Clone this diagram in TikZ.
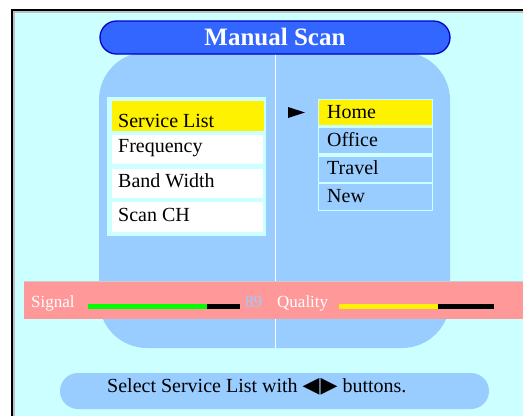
\documentclass[tikz,border=0pt]{standalone}
\usepackage{fontspec}
\setmainfont{Liberation Serif}
\newfontfamily\symfont{DejaVu Sans}
\definecolor{bgcyan}{HTML}{CCFFFF}
\definecolor{panelblue}{HTML}{99CCFF}
\definecolor{titleblue}{HTML}{3366FF}
\definecolor{titleedge}{HTML}{0000CC}
\definecolor{pinkbar}{HTML}{FF9999}
\tikzset{
  box/.style={inner sep=0, outer sep=0, anchor=north west},
  itemtext/.style={inner sep=0, anchor=base west, font=\fontsize{20}{24}\selectfont},
  sigtext/.style={inner sep=0, anchor=base west, font=\fontsize{17}{20}\selectfont, text=white},
}
\begin{document}
\begin{tikzpicture}[x=1pt,y=-1pt]
\useasboundingbox (0,0) rectangle (523,416);
\fill[white] (0,0) rectangle (523,416);
% frame
\fill[bgcyan] (12,10) rectangle (523,416);
\draw[gray!50, line width=1.2] (14,416) -- (14,12) -- (523,12);
\draw[black, line width=1.6] (12,416) -- (12,10) -- (523,10);
% big panel
\node[box, fill=panelblue, rounded corners=48, minimum width=351, minimum height=296] (panel) at (99,52) {};
% title
\node[draw=titleedge, line width=1.3, fill=titleblue, rounded corners=16.5, minimum width=350, minimum height=33, inner sep=0, text=white, font=\bfseries\fontsize{25}{28}\selectfont] (title) at (275,37.5) {\raisebox{1pt}{Manual Scan}};
% divider
\draw[white, line width=1] (title.south) -- (panel.south -| title.south);
% left list
\node[box, fill=bgcyan, minimum width=159, minimum height=139] (llist) at (107,97) {};
\node[box, fill=yellow, minimum width=152, minimum height=30] (l1) at (112,101) {};
\node[box, fill=white, minimum width=151, minimum height=29] (l2) at (112,135) {};
\node[box, fill=white, minimum width=151, minimum height=29] (l3) at (112,169) {};
\node[box, fill=white, minimum width=151, minimum height=30] (l4) at (112,202) {};
\node[itemtext] (t1) at (118,127) {Service List};
\node[itemtext] (t2) at (118,152) {Frequency};
\node[itemtext] (t3) at (118,187) {Band Width};
\node[itemtext] (t4) at (118,221) {Scan CH};
% arrow
\fill[black] (288,107) -- (305,112.5) -- (288,118) -- cycle;
% right list
\node[box, fill=bgcyan, minimum width=115, minimum height=112] (rlist) at (318,99) {};
\node[box, fill=yellow, minimum width=113, minimum height=25] (r1) at (319,100) {};
\node[box, fill=panelblue, minimum width=113, minimum height=25] (r2) at (319,128) {};
\node[box, fill=panelblue, minimum width=113, minimum height=25] (r3) at (319,157) {};
\node[box, fill=panelblue, minimum width=113, minimum height=26] (r4) at (319,184) {};
\node[itemtext] (h1) at (327,118) {Home};
\node[itemtext] (h2) at (327,146) {Office};
\node[itemtext] (h3) at (327,174) {Travel};
\node[itemtext] (h4) at (327,202) {New};
% signal bar
\node[box, fill=pinkbar, minimum width=499, minimum height=38] (sig) at (24,281) {};
\draw[gray!40, line width=0.6] (24,281) -- (523,281);
\node[sigtext] (sl) at (31,307) {Signal};
\node[box, fill=green, minimum width=119, minimum height=5] (g1) at (88,304) {};
\node[box, fill=black, minimum width=33, minimum height=5] (g2) at (207,304) {};
\node[sigtext, text=panelblue] (num) at (245,307) {89};
\node[sigtext] (ql) at (277,307) {Quality};
\node[box, fill=yellow, minimum width=99, minimum height=5] (q1) at (339,304) {};
\node[box, fill=black, minimum width=56, minimum height=5] (q2) at (438,304) {};
% bottom hint
\node[box, fill=panelblue, rounded corners=18, minimum width=429, minimum height=36] (hint) at (60,373) {};
\node[inner sep=0, anchor=base west, font=\fontsize{20}{24}\selectfont] (hinttext) at (107,392) {Select Service List with {\symfont\fontsize{22}{24}\selectfont ◀\kern1pt▶} buttons.};
\end{tikzpicture}
\end{document}
